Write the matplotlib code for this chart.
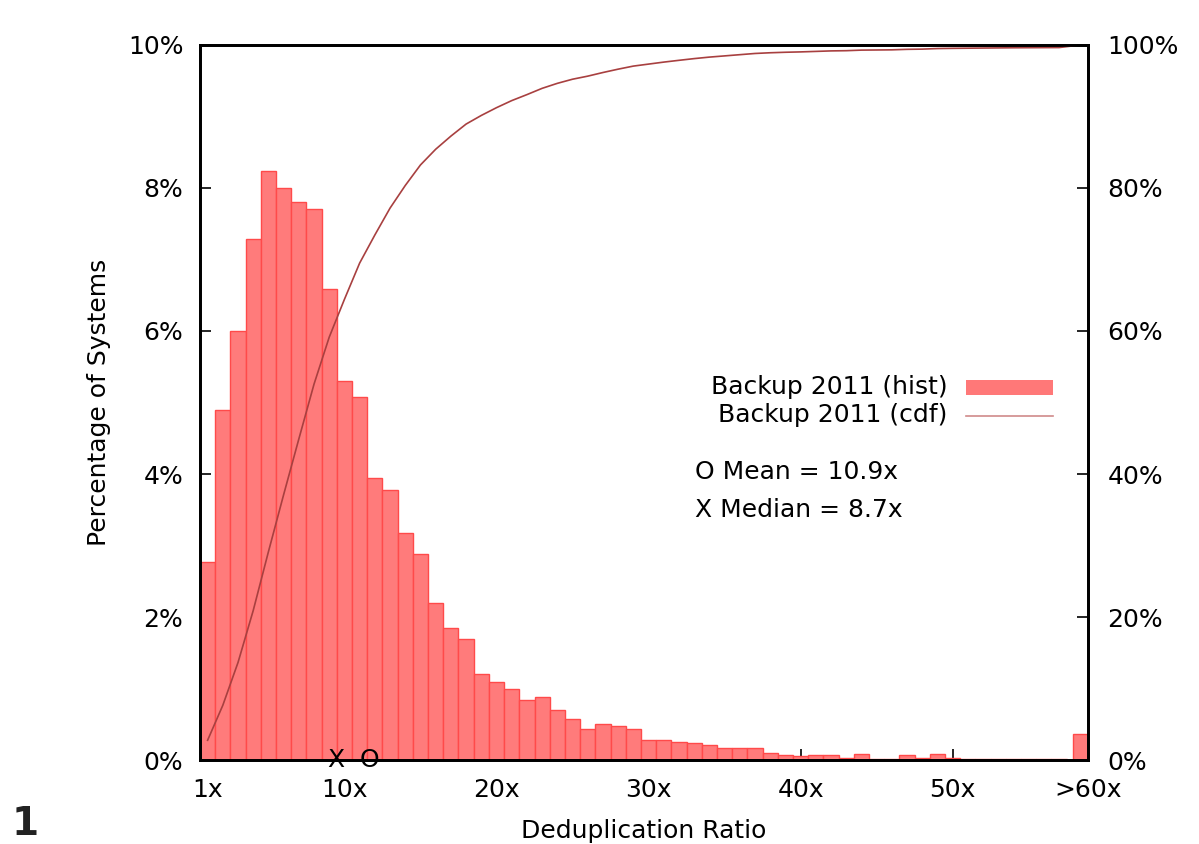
import numpy as np
import matplotlib
matplotlib.use('Agg')
import matplotlib.pyplot as plt
from matplotlib.patches import Rectangle

# share of systems per 1x dedup-ratio bin (1x .. 57x), last bin is ">60x"
hist_pct = [2.77, 4.90, 6.00, 7.29, 8.24, 8.00, 7.81, 7.70, 6.59, 5.30,
            5.08, 3.94, 3.77, 3.17, 2.88, 2.20, 1.84, 1.69, 1.21, 1.09,
            0.99, 0.84, 0.88, 0.70, 0.58, 0.43, 0.51, 0.47, 0.43, 0.28,
            0.28, 0.25, 0.24, 0.21, 0.17, 0.17, 0.17, 0.10, 0.07, 0.05,
            0.07, 0.07, 0.03, 0.08, 0.02, 0.02, 0.07, 0.03, 0.08, 0.03,
            0.02, 0.02, 0.02, 0.02, 0.01, 0.01, 0.01, 0.36]
tick_values = [1, 10, 20, 30, 40, 50]
tick_labels = ['1x', '10x', '20x', '30x', '40x', '50x', '>60x']
left_ticks = [0, 2, 4, 6, 8, 10]
right_ticks = [0, 20, 40, 60, 80, 100]
mean_ratio = 10.9
median_ratio = 8.7

HIST_COLOR = '#ff7b7b'
EDGE_COLOR = '#ff4a4a'
CDF_COLOR = '#a84040'
XMAX = 58.9

plt.rcParams['font.family'] = ['DejaVu Sans']
plt.rcParams['font.size'] = 18

fig = plt.figure(figsize=(11.99, 8.44), dpi=100)
ax = fig.add_axes([0.1668, 0.0995, 0.7406, 0.8472])

# bins sit at 1, 2, ... and the overflow bin is pushed against the right frame
n = len(hist_pct)
pos = np.arange(1, n + 1, dtype=float)
pos[-1] = XMAX - 0.5
ax.bar(pos, hist_pct, width=1.0, color=HIST_COLOR, edgecolor=EDGE_COLOR,
       linewidth=1.0, zorder=2)

ax.set_xlim(0.5, XMAX)
ax.set_ylim(0, 10)
ax.set_xticks(tick_values + [XMAX])
ax.set_xticklabels(tick_labels)
ax.set_yticks(left_ticks)
ax.set_yticklabels([f'{v}%' for v in left_ticks])
ax.tick_params(axis='x', direction='in', length=8, width=1.2, pad=13)
ax.tick_params(axis='y', direction='in', length=8, width=1.2, pad=12)
for sp in ax.spines.values():
    sp.set_linewidth(2)
ax.set_ylabel('Percentage of Systems', labelpad=12)

# cdf on the right axis
cdf = np.cumsum(hist_pct)
cdf = cdf / cdf[-1] * 100
ax2 = ax.twinx()
ax2.plot(pos, cdf, color=CDF_COLOR, linewidth=1.2)
ax2.set_ylim(0, 100)
ax2.set_yticks(right_ticks)
ax2.set_yticklabels([f'{v}%' for v in right_ticks])
ax2.tick_params(axis='y', direction='in', length=8, width=1.2, pad=14)
for sp in ax2.spines.values():
    sp.set_linewidth(2)

# mean / median markers sitting on the baseline
shift = 0.75
ax.text(median_ratio + shift, 0, 'X', ha='center', va='center', clip_on=False, zorder=5)
ax.text(mean_ratio + shift, 0, 'O', ha='center', va='center', clip_on=False, zorder=5)

# hand-made key, right-aligned labels like the original
ax.text(0.842, 0.522, 'Backup 2011 (hist)', transform=ax.transAxes, ha='right', va='center')
ax.add_patch(Rectangle((0.8626, 0.511), 0.098, 0.021, transform=ax.transAxes,
                       color='#ff7878', lw=0, zorder=5))
ax.text(0.842, 0.482, 'Backup 2011 (cdf)', transform=ax.transAxes, ha='right', va='center')
ax.plot([0.8626, 0.9606], [0.481, 0.481], transform=ax.transAxes,
        color='#d08a8a', linewidth=1.2, zorder=5)
ax.text(0.557, 0.403, f'O Mean = {mean_ratio}x', transform=ax.transAxes, ha='left', va='center')
ax.text(0.557, 0.350, f'X Median = {median_ratio}x', transform=ax.transAxes, ha='left', va='center')

# x label hugs the bottom edge, as in the cropped original
fig.text(0.5371, 0.001, 'Deduplication Ratio', ha='center', va='bottom')

# stray figure number at the bottom-left corner
fig.text(0.010, 0.001, '1', fontsize=28, fontweight='bold', color='#222222', va='bottom')

fig.savefig('out.png', dpi=100)
